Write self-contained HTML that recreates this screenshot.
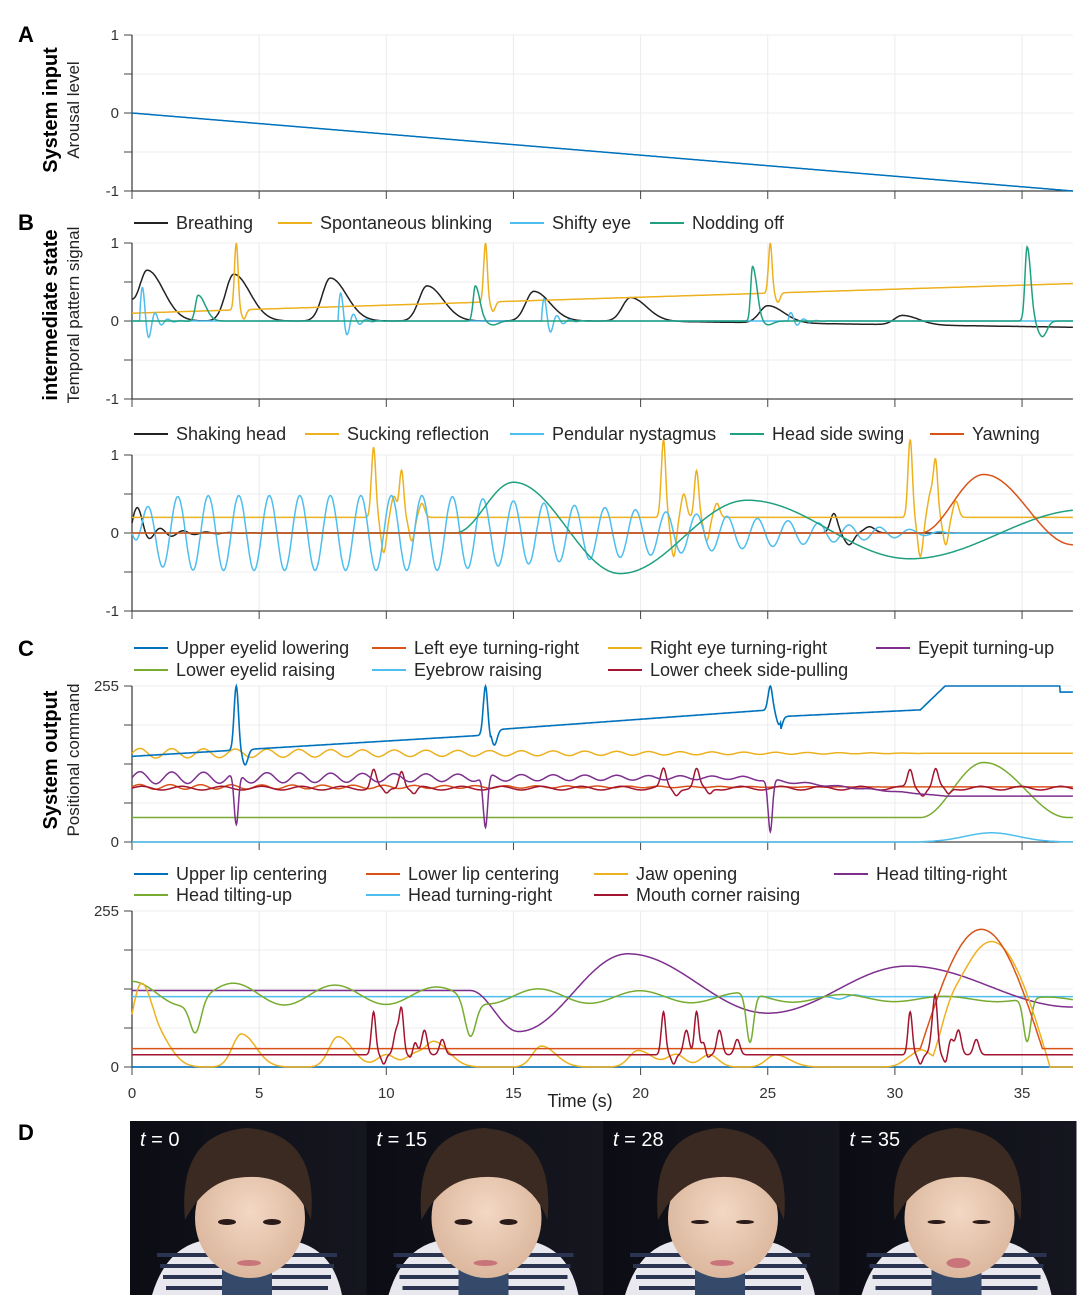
<!DOCTYPE html>
<html><head><meta charset="utf-8">
<style>
body{margin:0;background:#fff;}
svg{display:block;font-family:"Liberation Sans",sans-serif;}
.tk{font-size:15px;fill:#333;}
.lg{font-size:18px;fill:#262626;}
.pl{font-size:22px;font-weight:bold;fill:#000;}
</style></head><body>
<svg id="s" width="1080" height="1315" viewBox="0 0 1080 1315" xmlns="http://www.w3.org/2000/svg">
<defs>
<radialGradient id="skin" cx="0.5" cy="0.45" r="0.6"><stop offset="0" stop-color="#f3d8c4"/><stop offset="1" stop-color="#d9b49a"/></radialGradient>
<linearGradient id="bg" x1="0" x2="1"><stop offset="0" stop-color="#0c0d14"/><stop offset="1" stop-color="#15161f"/></linearGradient>
</defs>
<g id="g"></g>
</svg>
<script>
var G=document.getElementById('g');var S='';
function X(t){return 132+25.43*t;}
function add(s){S+=s;}
var XR=X(37);
function panel(top,bot,ymin,ymax,ticks,labels,xlab){
  var Y=function(v){return bot-(v-ymin)/(ymax-ymin)*(bot-top);};
  for(var t=5;t<=35;t+=5)add('<line x1="'+X(t)+'" y1="'+top+'" x2="'+X(t)+'" y2="'+bot+'" stroke="#ececec"/>');
  ticks.forEach(function(v){add('<line x1="132" y1="'+Y(v)+'" x2="'+XR+'" y2="'+Y(v)+'" stroke="#ececec"/>');add('<line x1="124" y1="'+Y(v)+'" x2="132" y2="'+Y(v)+'" stroke="#444"/>');});
  labels.forEach(function(l){add('<text class="tk" x="119" y="'+(Y(l[0])+5)+'" text-anchor="end">'+l[1]+'</text>');});
  add('<line x1="132" y1="'+top+'" x2="132" y2="'+bot+'" stroke="#444" stroke-width="1.3"/>');
  add('<line x1="132" y1="'+bot+'" x2="'+XR+'" y2="'+bot+'" stroke="#444" stroke-width="1.3"/>');
  for(var t=0;t<=35;t+=5){add('<line x1="'+X(t)+'" y1="'+bot+'" x2="'+X(t)+'" y2="'+(bot+8)+'" stroke="#444"/>');
   if(xlab)add('<text class="tk" x="'+X(t)+'" y="'+(bot+31)+'" text-anchor="middle">'+t+'</text>');}
  return Y;
}
function series(Y,f,col,w){var d='';for(var t=0;t<=37.0001;t+=0.02){d+=(d?'L':'M')+X(t).toFixed(1)+' '+Y(f(t)).toFixed(1);}add('<path d="'+d+'" fill="none" stroke="'+col+'" stroke-width="'+(w||1.5)+'"/>');}
function g(t,c,w){return Math.exp(-Math.pow((t-c)/w,2));}
function ag(t,c,w1,w2){var w=t<c?w1:w2;return Math.exp(-Math.pow((t-c)/w,2));}
function damp(t,c,A,tau,p){if(t<c)return 0;var u=t-c;return A*Math.exp(-u/tau)*Math.sin(2*Math.PI*u/p);}
function interp(t,k){if(t<=k[0][0])return k[0][1];for(var i=1;i<k.length;i++){if(t<=k[i][0]){var a=k[i-1],b=k[i];var u=(t-a[0])/(b[0]-a[0]);return a[1]+(b[1]-a[1])*(1-Math.cos(Math.PI*u))/2;}}return k[k.length-1][1];}
function leg(x,y,col,txt){add('<line x1="'+x+'" y1="'+(y-6)+'" x2="'+(x+34)+'" y2="'+(y-6)+'" stroke="'+col+'" stroke-width="2"/><text class="lg" x="'+(x+42)+'" y="'+y+'">'+txt+'</text>');}
function ylab(x,y,b,s){add('<text transform="translate('+x+','+y+') rotate(-90)" text-anchor="middle" style="font-size:20px;font-weight:bold">'+b+'</text>');if(s)add('<text transform="translate('+(x+22)+','+y+') rotate(-90)" text-anchor="middle" style="font-size:17px;fill:#222">'+s+'</text>');}
var C={b:'#0072BD',o:'#D95319',y:'#EDB120',p:'#7E2F8E',gr:'#77AC30',lb:'#4DBEEE',r:'#A2142F',k:'#222',tg:'#20A080'};
// A
var YA=panel(35,191,-1,1,[-1,-0.5,0,0.5,1],[[-1,'-1'],[0,'0'],[1,'1']]);
series(YA,function(t){return -t/37;},C.b);
add('<text class="pl" x="18" y="42">A</text>');ylab(57,110,'System input','Arousal level');
// B1
var YB=panel(243,399,-1,1,[-1,-0.5,0,0.5,1],[[-1,'-1'],[0,'0'],[1,'1']]);
var bp=[[0.6,0.65],[4,0.6],[7.8,0.55],[11.6,0.45],[15.8,0.38],[19.6,0.3],[25,0.22],[30.3,0.12]];
series(YB,function(t){var v=0;bp.forEach(function(p){v+=p[1]*ag(t,p[0],0.45,0.9);});return v+0.3*g(t,-0.3,0.4)-(t>20?0.08*(t-20)/17:0);},C.k);
var blinks=[4.1,13.9,25.1];
series(YB,function(t){var v=0.1+0.38*t/37;blinks.forEach(function(c){v+=(1-v)*g(t,c,0.1)-0.12*g(t,c+0.3,0.12);});return v;},C.y);
series(YB,function(t){return damp(t,0.3,0.6,0.35,0.5)+damp(t,8.1,0.5,0.35,0.5)+damp(t,16.1,0.4,0.35,0.5)+damp(t,25.8,0.15,0.35,0.5);},C.lb);
series(YB,function(t){return 0.33*ag(t,2.6,0.15,0.4)+0.45*ag(t,13.5,0.12,0.25)-0.05*g(t,14.2,0.3)+0.7*ag(t,24.4,0.1,0.25)-0.05*g(t,25,0.3)+0.95*ag(t,35.2,0.12,0.2)-0.2*g(t,35.8,0.25);},C.tg);
add('<text class="pl" x="18" y="230">B</text>');ylab(57,315,'intermediate state','Temporal pattern signal');
leg(134,229,C.k,'Breathing');leg(278,229,C.y,'Spontaneous blinking');leg(510,229,C.lb,'Shifty eye');leg(650,229,C.tg,'Nodding off');
// B2
var YB2=panel(455,611,-1,1,[-1,-0.5,0,0.5,1],[[-1,'-1'],[0,'0'],[1,'1']]);
series(YB2,function(t){return 0.15*Math.exp(-t/1.2)*Math.sin(2*Math.PI*t/0.9)+0.2*g(t,0.2,0.3)+0.25*g(t,27.6,0.2)-0.15*g(t,28.2,0.25)+0.08*g(t,29,0.3);},C.k);
var suck=[[9.5,0.9],[10.6,0.6],[20.9,1],[22.2,0.6],[30.6,1],[31.6,0.7]];
series(YB2,function(t){var v=0.2;suck.forEach(function(s){v+=s[1]*g(t,s[0],0.12)-0.5*s[1]*g(t,s[0]+0.4,0.15)+0.3*s[1]*g(t,s[0]+0.8,0.15);});return v;},C.y);
series(YB2,function(t){var a=t<12?0.48:Math.max(0,0.48-0.42*(t-12)/18);return -a*Math.cos(2*Math.PI*t/1.2)*(1-Math.exp(-t*2));},C.lb);
var hs=[[12.7,0],[15,0.65],[19.2,-0.52],[24.2,0.42],[30.6,-0.33],[37.5,0.3]];
series(YB2,function(t){return t<12.7?0:interp(t,hs);},C.tg);
series(YB2,function(t){return interp(t,[[31,0],[33.5,0.75],[37,-0.15]]);},C.o);
leg(134,440,C.k,'Shaking head');leg(305,440,C.y,'Sucking reflection');leg(510,440,C.lb,'Pendular nystagmus');leg(730,440,C.tg,'Head side swing');leg(930,440,C.o,'Yawning');
// C1
var t4=[0,63.75,127.5,191.25,255],l4=[[0,'0'],[255,'255']];
var YC=panel(686,842,0,255,t4,l4);
series(YC,function(t){return t>31?15*g(t,33.8,1.5):0;},C.lb);
series(YC,function(t){return interp(t,[[31,40],[33.5,130],[36.8,40]]);},C.gr);
series(YC,function(t){return 145+8*Math.sin(2*Math.PI*t/1.25)*Math.max(0,1-t/32);},C.y);
series(YC,function(t){return 90+4*Math.sin(2*Math.PI*t/1.2)*Math.max(0,1-t/30);},C.o);
series(YC,function(t){var v=88+3*Math.sin(t*4);suck.forEach(function(s){v+=30*g(t,s[0],0.15)-10*g(t,s[0]+0.5,0.15);});return v;},C.r);
series(YC,function(t){var v=(t<24?105:105-30*Math.min(1,(t-24)/8))+10*Math.sin(2*Math.PI*t/1.25)*Math.max(0,1-t/32);blinks.forEach(function(c){v-=85*g(t,c,0.12);});return v;},C.p);
series(YC,function(t){var v;if(t<14.1)v=140+35*t/14;else if(t<25.5)v=183+33*(t-14.1)/11;else v=205+(t-25.5)*2;if(t>31)v=Math.min(255,216+40*(t-31));if(t>36.5)v=245;blinks.forEach(function(c){v+=(255-v)*g(t,c,0.12)-25*g(t,c+0.35,0.15);});return v;},C.b,1.6);
add('<text class="pl" x="18" y="656">C</text>');ylab(57,760,'System output','Positional command');
leg(134,654,C.b,'Upper eyelid lowering');leg(372,654,C.o,'Left eye turning-right');leg(608,654,C.y,'Right eye turning-right');leg(876,654,C.p,'Eyepit turning-up');
leg(134,676,C.gr,'Lower eyelid raising');leg(372,676,C.lb,'Eyebrow raising');leg(608,676,C.r,'Lower cheek side-pulling');
// C2
var YC2=panel(911,1067,0,255,t4,l4,true);
series(YC2,function(t){return 0;},C.b);
series(YC2,function(t){return 115-4*g(t,27.8,0.3)+3*g(t,28.4,0.3);},C.lb);
series(YC2,function(t){return interp(t,[[13.3,125],[15.2,58],[19.5,185],[25,88],[30.5,165],[37,98]]);},C.p);
series(YC2,function(t){return 120+20*Math.cos(2*Math.PI*t/4)*Math.max(0.2,1-t/40)-10*t/37-50*g(t,2.5,0.3)-60*g(t,13.3,0.3)-80*g(t,24.3,0.2)-70*g(t,35.2,0.2);},C.gr);
series(YC2,function(t){var v=0;bp.forEach(function(p){v+=90*p[1]*ag(t,p[0]+0.3,0.5,0.8);});v+=120*g(t,0.3,0.5);suck.forEach(function(s){v+=20*g(t,s[0]+0.5,0.5);});if(t>31.5)v+=205*Math.sin(Math.PI*Math.min(1,(t-31.5)/4.6));return v;},C.y);
series(YC2,function(t){var v=30;if(t>31)v+=195*Math.max(0,Math.sin(Math.PI*Math.min(1,(t-31)/4.8)));return v;},C.o);
series(YC2,function(t){var v=20;suck.forEach(function(s){v+=70*g(t,s[0],0.12)-15*g(t,s[0]+0.4,0.12)+40*g(t,s[0]+0.9,0.15)+25*g(t,s[0]+1.6,0.15);});return Math.max(0,v);},C.r);
leg(134,880,C.b,'Upper lip centering');leg(366,880,C.o,'Lower lip centering');leg(594,880,C.y,'Jaw opening');leg(834,880,C.p,'Head tilting-right');
leg(134,901,C.gr,'Head tilting-up');leg(366,901,C.lb,'Head turning-right');leg(594,901,C.r,'Mouth corner raising');
add('<text x="580" y="1107" text-anchor="middle" style="font-size:18px;fill:#222">Time (s)</text>');
// D
add('<text class="pl" x="18" y="1140">D</text>');
var labs=['0','15','28','35'];
for(var i=0;i<4;i++){var x0=130+i*236.5;var cx=x0+117;
 add('<rect x="'+x0+'" y="1121" width="237" height="174" fill="url(#bg)"/>');
 add('<path d="M'+(cx-95)+' 1295 Q'+(cx-80)+' 1245 '+(cx-40)+' 1240 L'+(cx+40)+' 1240 Q'+(cx+85)+' 1245 '+(cx+95)+' 1295Z" fill="#e8e8ee"/>');
 for(var k=0;k<4;k++)add('<line x1="'+(cx-90+k*3)+'" y1="'+(1255+k*11)+'" x2="'+(cx+90-k*3)+'" y2="'+(1255+k*11)+'" stroke="#2a3350" stroke-width="4"/>');
 add('<rect x="'+(cx-25)+'" y="1265" width="50" height="30" fill="#354a6a"/>');
 add('<ellipse cx="'+(cx+3)+'" cy="1218" rx="55" ry="60" fill="url(#skin)"/>');
 add('<path d="M'+(cx-62)+' 1220 Q'+(cx-70)+' 1133 '+cx+' 1128 Q'+(cx+72)+' 1133 '+(cx+64)+' 1220 Q'+(cx+45)+' 1170 '+(cx-10)+' 1178 Q'+(cx-42)+' 1182 '+(cx-62)+' 1220Z" fill="#3a2a22"/>');
 add('<ellipse cx="'+(cx-20)+'" cy="1222" rx="9" ry="'+(i>=2?2:3)+'" fill="#2a1a18"/><ellipse cx="'+(cx+25)+'" cy="1222" rx="9" ry="'+(i>=2?2:3)+'" fill="#2a1a18"/>');
 add('<ellipse cx="'+(cx+2)+'" cy="1263" rx="12" ry="'+(i==3?5:3)+'" fill="#c9747a"/>');
 add('<text x="'+(x0+10)+'" y="1146" style="font-size:20px;fill:#fff"><tspan font-style="italic">t</tspan> = '+labs[i]+'</text>');}
G.innerHTML=S;
</script>
</body></html>
